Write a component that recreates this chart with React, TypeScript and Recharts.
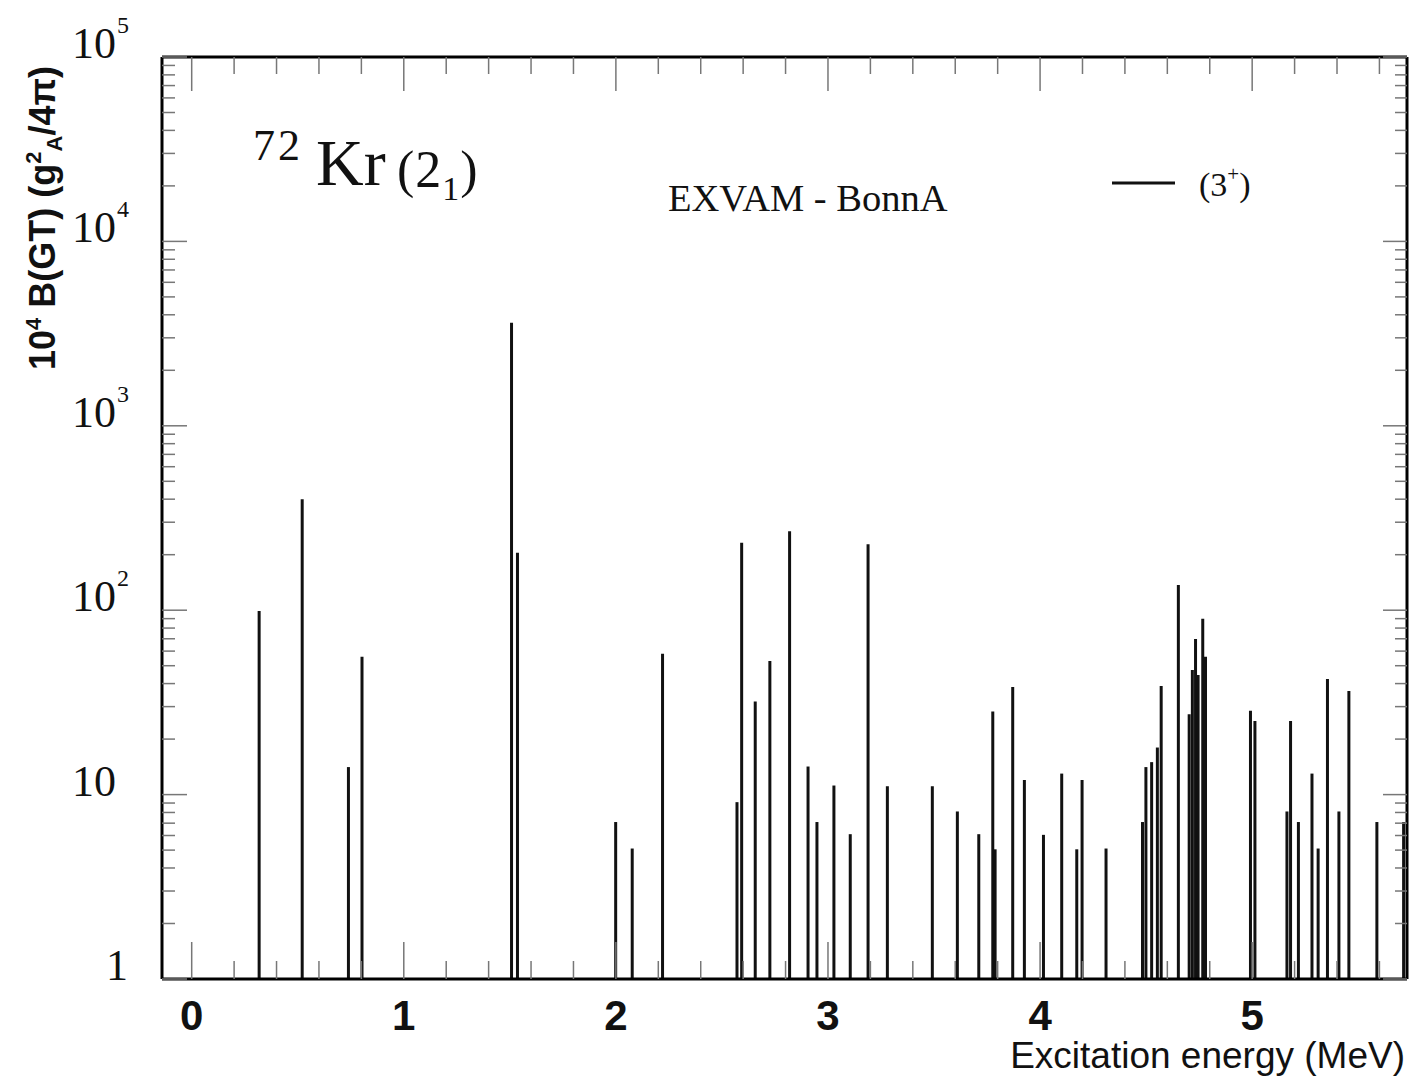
import React from 'react';
import { ComposedChart, XAxis, YAxis, ReferenceLine, Scatter } from 'recharts';

// excitation energies (MeV) and 10^4 B(GT) strengths of the (3+) states
const energies = [
  0.318, 0.521, 0.739, 0.803, 1.508, 1.536, 1.999, 2.077, 2.22, 2.571,
  2.593, 2.657, 2.726, 2.819, 2.906, 2.948, 3.028, 3.105, 3.189, 3.28,
  3.492, 3.61, 3.711, 3.777, 3.788, 3.871, 3.926, 4.016, 4.102, 4.173,
  4.198, 4.311, 4.483, 4.499, 4.526, 4.553, 4.571, 4.652, 4.703, 4.718,
  4.733, 4.745, 4.767, 4.78, 4.992, 5.013, 5.164, 5.181, 5.218, 5.282,
  5.311, 5.355, 5.409, 5.456, 5.588, 5.714,
];
const strengths = [
  99, 400, 14.1, 56, 3620, 205, 7.1, 5.1, 58, 9.1,
  232, 32, 53, 268, 14.2, 7.1, 11.2, 6.1, 228, 11.1,
  11.1, 8.1, 6.1, 28.2, 5.05, 38.3, 12, 6.05, 13, 5.05,
  12, 5.1, 7.1, 14.1, 15, 18, 38.8, 137, 27.3, 47.4,
  69.8, 44.5, 90, 56, 28.5, 25.1, 8.1, 25.1, 7.1, 13,
  5.1, 42.4, 8.1, 36.5, 7.1, 7.1,
];

const xTicks = [
  0, 0.2, 0.4, 0.6, 0.8, 1, 1.2, 1.4, 1.6, 1.8, 2, 2.2, 2.4, 2.6, 2.8,
  3, 3.2, 3.4, 3.6, 3.8, 4, 4.2, 4.4, 4.6, 4.8, 5, 5.2, 5.4, 5.6,
];
const yTicks = [
  1, 2, 3, 4, 5, 6, 7, 8, 9,
  10, 20, 30, 40, 50, 60, 70, 80, 90,
  100, 200, 300, 400, 500, 600, 700, 800, 900,
  1000, 2000, 3000, 4000, 5000, 6000, 7000, 8000, 9000,
  10000, 20000, 30000, 40000, 50000, 60000, 70000, 80000, 90000,
  100000,
];

const points = energies.map((e, i) => ({ e, b: strengths[i] }));

const SERIF = '"Liberation Serif", "DejaVu Serif", serif';
const SANS = '"Liberation Sans", Arial, sans-serif';
const TICK = '#777';

function isDecade(v: number) {
  const l = Math.log10(v);
  return Math.abs(l - Math.round(l)) < 1e-9;
}

function isInteger(v: number) {
  return Math.abs(v - Math.round(v)) < 1e-9;
}

const LeftTick = (props: any) => {
  const { x, y, payload } = props;
  const v = payload.value;
  const major = isDecade(v);
  const exp = Math.round(Math.log10(v));
  let label = null;
  if (major) {
    if (exp === 0) {
      label = (
        <text x={x - 34} y={y + 1} textAnchor="end" fontFamily={SERIF} fontSize={44} fill="#111">
          1
        </text>
      );
    } else if (exp === 1) {
      label = (
        <text x={x - 90} y={y + 1} fontFamily={SERIF} fontSize={44} fill="#111">
          10
        </text>
      );
    } else {
      label = (
        <text x={x - 90} y={y + 1} fontFamily={SERIF} fontSize={44} fill="#111">
          10
          <tspan dx={1} dy={-25} fontSize={24}>{exp}</tspan>
        </text>
      );
    }
  }
  return (
    <g>
      <line x1={x} y1={y} x2={x + (major ? 25 : 13)} y2={y} stroke={TICK} strokeWidth={1.5} />
      {label}
    </g>
  );
};

const RightTick = (props: any) => {
  const { x, y, payload } = props;
  const major = isDecade(payload.value);
  return <line x1={x} y1={y} x2={x - (major ? 24 : 12)} y2={y} stroke={TICK} strokeWidth={1.5} />;
};

const BottomTick = (props: any) => {
  const { x, y, payload } = props;
  const major = isInteger(payload.value);
  return (
    <g>
      <line x1={x} y1={y} x2={x} y2={y - (major ? 37 : 18)} stroke={TICK} strokeWidth={1.5} />
      {major && (
        <text x={x} y={y + 51} textAnchor="middle" fontFamily={SANS} fontWeight="bold" fontSize={42} fill="#111">
          {Math.round(payload.value)}
        </text>
      )}
    </g>
  );
};

const TopTick = (props: any) => {
  const { x, y, payload } = props;
  const major = isInteger(payload.value);
  return <line x1={x} y1={y} x2={x} y2={y + (major ? 34 : 17)} stroke={TICK} strokeWidth={1.5} />;
};

const NoMark = () => <g />;

export default function App() {
  return (
    <div style={{ position: 'absolute', left: 0, top: 0, width: 1412, height: 1082, background: '#fff' }}>
      <ComposedChart
        width={1412}
        height={1082}
        data={points}
        margin={{ top: 56, right: 4, bottom: 102, left: 161 }}
      >
        <XAxis
          xAxisId="x"
          type="number"
          dataKey="e"
          domain={[-0.14, 5.73]}
          allowDataOverflow
          ticks={xTicks}
          interval={0}
          height={1}
          tickSize={0}
          tickMargin={0}
          tickLine={false}
          tick={<BottomTick />}
          axisLine={{ stroke: '#000', strokeWidth: 3 }}
        />
        <XAxis
          xAxisId="top"
          orientation="top"
          type="number"
          dataKey="e"
          domain={[-0.14, 5.73]}
          allowDataOverflow
          ticks={xTicks}
          interval={0}
          height={1}
          tickSize={0}
          tickMargin={0}
          tickLine={false}
          tick={<TopTick />}
          axisLine={{ stroke: '#000', strokeWidth: 3 }}
        />
        <YAxis
          yAxisId="y"
          type="number"
          scale="log"
          domain={[1, 100000]}
          allowDataOverflow
          ticks={yTicks}
          interval={0}
          width={1}
          tickSize={0}
          tickMargin={0}
          tickLine={false}
          tick={<LeftTick />}
          axisLine={{ stroke: '#000', strokeWidth: 3 }}
        />
        <YAxis
          yAxisId="right"
          orientation="right"
          type="number"
          scale="log"
          domain={[1, 100000]}
          allowDataOverflow
          ticks={yTicks}
          interval={0}
          width={1}
          tickSize={0}
          tickMargin={0}
          tickLine={false}
          tick={<RightTick />}
          axisLine={{ stroke: '#000', strokeWidth: 3 }}
        />
        <Scatter
          name="(3+)"
          xAxisId="x"
          yAxisId="y"
          dataKey="b"
          shape={<NoMark />}
          isAnimationActive={false}
        />
        <Scatter
          name="frame"
          xAxisId="top"
          yAxisId="right"
          dataKey="b"
          shape={<NoMark />}
          legendType="none"
          isAnimationActive={false}
        />
        {points.map((p, i) => (
          <ReferenceLine
            key={i}
            xAxisId="x"
            yAxisId="y"
            segment={[{ x: p.e, y: 1 }, { x: p.e, y: p.b }]}
            stroke="#111"
            strokeWidth={3}
            ifOverflow="visible"
          />
        ))}
      </ComposedChart>

      <svg
        width={1412}
        height={1082}
        style={{ position: 'absolute', left: 0, top: 0, pointerEvents: 'none' }}
      >
        <text x={253} y={160} fontFamily={SERIF} fontSize={44} letterSpacing={3} fill="#111">72</text>
        <text x={316} y={185} fontFamily={SERIF} fontSize={66} fill="#111">Kr</text>
        <text x={397} y={187} fontFamily={SERIF} fontSize={52} letterSpacing={1} fill="#111">
          (2<tspan dy={13} fontSize={34}>1</tspan><tspan dy={-13}>)</tspan>
        </text>
        <text x={668} y={211} fontFamily={SERIF} fontSize={38.5} fill="#111">EXVAM - BonnA</text>
        <line x1={1112} y1={183} x2={1175} y2={183} stroke="#111" strokeWidth={3} />
        <text x={1199} y={196} fontFamily={SERIF} fontSize={34} fill="#111">
          (3<tspan dy={-15} fontSize={21}>+</tspan><tspan dy={15}>)</tspan>
        </text>
        <text
          transform="translate(55, 218) rotate(-90)"
          textAnchor="middle"
          fontFamily={SANS}
          fontWeight="bold"
          fontSize={36}
          fill="#111"
        >
          10<tspan dy={-14} fontSize={22}>4</tspan>
          <tspan dy={14}> B(GT) (g</tspan>
          <tspan dy={-14} fontSize={22}>2</tspan>
          <tspan dy={21} fontSize={22}>A</tspan>
          <tspan dy={-7}>/4π)</tspan>
        </text>
        <text x={1405} y={1068} textAnchor="end" fontFamily={SANS} fontSize={37} fill="#111">
          Excitation energy (MeV)
        </text>
      </svg>
    </div>
  );
}
